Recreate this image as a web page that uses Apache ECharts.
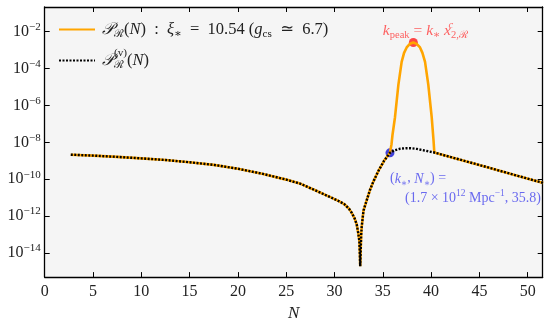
<!DOCTYPE html>
<html><head><meta charset="utf-8">
<script src="https://cdn.jsdelivr.net/npm/echarts@6/dist/echarts.min.js"></script>
<style>html,body{margin:0;padding:0;background:#fff}#c{width:550px;height:327px}</style>
</head><body><div id="c"></div>
<script>
// vacuum-like spectrum P_R^(v)(N)
const N_vac = [2.7, 5, 7.5, 10, 12.5, 15, 17.5, 20, 22.5, 25, 26.5, 28, 29.5, 30.5, 31, 31.5, 31.8, 32.1, 32.3, 32.45, 32.57, 32.62, 32.66, 32.70, 32.76, 32.82, 33.0, 33.33, 33.67, 34.02, 34.54, 35.13, 35.74, 36.2, 36.8, 37.4, 37.9, 38.5, 39.3, 40.33, 43, 46, 49, 51.6];
const P_vac = [2.14e-9, 1.91e-9, 1.62e-9, 1.35e-9, 1.10e-9, 8.3e-10, 6.0e-10, 3.7e-10, 2.0e-10, 9.5e-11, 5.6e-11, 2.5e-11, 1.1e-11, 6.3e-12, 4.5e-12, 2.5e-12, 1.45e-12, 7.1e-13, 3.5e-13, 1.26e-13, 4.6e-14, 1.0e-14, 1.9e-15, 1.0e-14, 1.0e-13, 2.8e-13, 2.0e-12, 7.2e-12, 2.6e-11, 7.4e-11, 2.8e-10, 1.0e-9, 2.7e-9, 3.7e-9, 4.5e-9, 4.8e-9, 4.8e-9, 4.4e-9, 3.6e-9, 2.8e-9, 1.15e-9, 4.2e-10, 1.5e-10, 6.3e-11];
// sourced peak of P_R(N) between N_* and its end
const N_peak = [35.9, 36.0, 36.26, 36.61, 36.95, 37.2, 37.47, 37.8, 38.16, 38.5, 38.85, 39.1, 39.37, 39.71, 40.06, 40.25];
const P_peak = [7.9e-9, 2.5e-8, 2.3e-7, 1.3e-5, 2.3e-4, 7.1e-4, 1.4e-3, 2.2e-3, 2.6e-3, 2.2e-3, 1.4e-3, 7.1e-4, 2.3e-4, 1.3e-5, 2.3e-7, 1.26e-8];
const N_star = 35.74, P_star = 2.7e-9;
const N_top = 38.16, P_top = 2.6e-3;
const yTickValues = [1e-14, 1e-12, 1e-10, 1e-8, 1e-6, 1e-4, 1e-2];

const vacData = N_vac.map((n, i) => [n, P_vac[i]]);
const orangeData = [];
N_vac.forEach((n, i) => { if (n <= N_star) orangeData.push([n, P_vac[i]]); });
N_peak.forEach((n, i) => orangeData.push([n, P_peak[i]]));
N_vac.forEach((n, i) => { if (n >= 40.33) orangeData.push([n, P_vac[i]]); });

const SERIF = "'Liberation Serif', 'DejaVu Serif', serif";
const TXT = '#222';
const chart = echarts.init(document.getElementById('c'), null, {renderer: 'canvas'});

const yLabelFmt = v => { const e = Math.round(Math.log10(v)); return '{b|10}{s|' + (e < 0 ? '−' : '') + Math.abs(e) + '}'; };
const yRich = {
  b: {fontFamily: SERIF, fontSize: 16, color: TXT},
  s: {fontFamily: SERIF, fontSize: 11, color: TXT, padding: [0, 0, 9, 0]}
};
const mathRich = (size, color) => ({
  t: {fontFamily: SERIF, fontSize: size, color},
  i: {fontFamily: SERIF, fontSize: size, fontStyle: 'italic', color},
  P: {fontFamily: "'DejaVu Serif', serif", fontSize: size, fontStyle: 'italic', color},
  sub: {fontFamily: SERIF, fontSize: size * 0.68, color, padding: [9, 0, 0, 0]},
  subz: {fontFamily: SERIF, fontSize: size * 0.68, color, padding: [10, 0, 0, 0], width: 0},
  sup: {fontFamily: SERIF, fontSize: size * 0.68, color, padding: [0, 0, 10, 0]},
  supv: {fontFamily: SERIF, fontSize: size * 0.68, color, padding: [0, 0, 15, 0]},
  supz: {fontFamily: SERIF, fontSize: size * 0.68, fontStyle: 'italic', color, padding: [0, 0, 10, 0], width: 0},
  ind: {width: 15}
});

const NAME_O = 'PR', NAME_V = 'PRv';
const axisLineStyle = {color: '#000', width: 1.3};
const tickStyle = {show: true, inside: true, length: 5, lineStyle: {color: '#000', width: 1}};

chart.setOption({
  animation: false,
  backgroundColor: '#fff',
  grid: {left: 44.7, right: 7.3, top: 7, bottom: 43, show: true, backgroundColor: '#f5f5f5', borderWidth: 0},
  legend: {
    left: 53, top: 16, orient: 'vertical', itemWidth: 36, itemHeight: 14, itemGap: 8,
    data: [NAME_O, NAME_V],
    itemStyle: {opacity: 0},
    formatter: name => name === NAME_O
      ? '{P|𝒫}{sub|ℛ}{t|(}{i|N}{t|)  :  }{i|ξ}{sub|∗}{t|  =  10.54 (}{i|g}{sub|cs}{t|  ≃  6.7)}'
      : '{P|𝒫}{subz|ℛ}{supv|(v)}{t|(}{i|N}{t|)}',
    textStyle: {rich: mathRich(16.5, TXT), padding: [0, 0, 0, 2]}
  },
  xAxis: [{
    type: 'value', min: 0, max: 51.55, interval: 5, position: 'bottom',
    axisLine: {show: true, onZero: false, lineStyle: axisLineStyle},
    axisTick: tickStyle, splitLine: {show: false},
    axisLabel: {fontFamily: SERIF, fontSize: 16, color: TXT, margin: 7},
    name: 'N', nameLocation: 'middle', nameGap: 27,
    nameTextStyle: {fontFamily: SERIF, fontSize: 17, fontStyle: 'italic', color: TXT}
  }, {
    type: 'value', min: 0, max: 51.55, interval: 5, position: 'top',
    axisLine: {show: true, onZero: false, lineStyle: axisLineStyle},
    axisTick: tickStyle, splitLine: {show: false}, axisLabel: {show: false}
  }],
  yAxis: [{
    type: 'log', logBase: 10, min: 4.9e-16, max: 0.219, position: 'left',
    axisLine: {show: true, onZero: false, lineStyle: axisLineStyle},
    axisTick: Object.assign({customValues: yTickValues}, tickStyle), splitLine: {show: false}, minorTick: {show: false},
    axisLabel: {customValues: yTickValues, formatter: yLabelFmt, rich: yRich, margin: 4}
  }, {
    type: 'log', logBase: 10, min: 4.9e-16, max: 0.219, position: 'right',
    axisLine: {show: true, onZero: false, lineStyle: axisLineStyle},
    axisTick: Object.assign({customValues: yTickValues}, tickStyle), splitLine: {show: false},
    axisLabel: {show: false}
  }],
  series: [
    {
      type: 'scatter', z: 1, symbolSize: 9, silent: true,
      data: [[N_top, P_top]], itemStyle: {color: '#ff1a1a'},
      label: {show: true, position: 'top', distance: 1, offset: [12, 4], color: '#ff3b3b',
        formatter: '{i|k}{sub|peak}{t| = }{i|k}{sub|∗}{t| }{i|x}{supz|c}{sub|2,ℛ}',
        rich: mathRich(15.5, '#ff3b3b')}
    },
    {
      type: 'scatter', z: 1, symbolSize: 9, silent: true,
      data: [[N_star, P_star]], itemStyle: {color: '#1414d2'},
      label: {show: true, position: 'bottom', distance: 12, align: 'left', color: '#4646ee',
        formatter: '{t|(}{i|k}{sub|∗}{t|, }{i|N}{sub|∗}{t|) =}\n{ind|}{t|(1.7 × 10}{sup|12}{t| Mpc}{sup|−1}{t|, 35.8)}',
        rich: mathRich(14, '#4646ee')}
    },
    {
      name: NAME_O, type: 'line', z: 2, data: orangeData, showSymbol: false, symbol: 'none',
      color: '#ffa500', lineStyle: {color: '#ffa500', width: 2.6}
    },
    {
      name: NAME_V, type: 'line', z: 3, data: vacData, showSymbol: false, symbol: 'none',
      color: '#000', lineStyle: {color: '#000', width: 2.4, type: [2, 1.5]}
    }
  ]
});
</script></body></html>
